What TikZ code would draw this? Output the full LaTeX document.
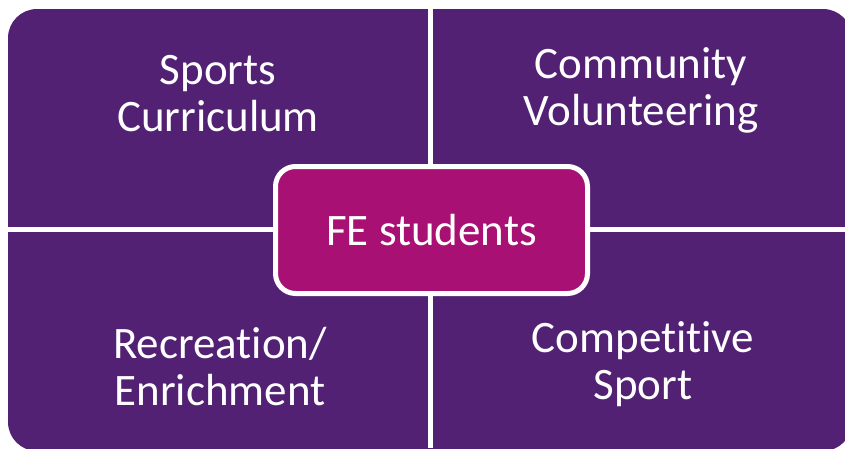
\documentclass[tikz,border=0pt]{standalone}
\usepackage{fontspec}
\setmainfont{Carlito}[Ligatures={NoCommon}]
\usepackage{tikz}
\definecolor{quadpurple}{RGB}{82,33,115}
\definecolor{hubmagenta}{RGB}{168,17,115}
\tikzset{quad/.style = {text = white, align = center, font = \fontsize{45}{47}\selectfont, inner sep = 0}}
\tikzset{hub/.style = {draw = white, line width = 5pt, fill = hubmagenta, rounded corners = 20pt,
                       minimum width = 312pt, minimum height = 127pt, text = white,
                       font = \fontsize{45}{47}\selectfont}}
\tikzset{divider/.style = {draw = white, line width = 5pt}}

\begin{document}
\begin{tikzpicture}[x=1pt, y=-1pt]
    \useasboundingbox (0, 0) rectangle (845, 448);
    \clip (0, 0) rectangle (845, 448);
    \fill [quadpurple, rounded corners = 29pt] (8, 9) rectangle (852, 451);

    \coordinate (top) at (430.5, 0);
    \coordinate (bottom) at (430.5, 448);
    \coordinate (left) at (0, 229.5);
    \coordinate (right) at (845, 229.5);
    \draw [divider] (top) -- (bottom);
    \draw [divider] (left) -- (right);

    \node [hub] (fe) at (431.5, 230) {FE students};

    \node [quad] (curriculum) at (218, 94) {Sports\\Curriculum};
    \node [quad] (volunteering) at (641, 90) {Community\\Volunteering};
    \node [quad] (recreation) at (220, 367) {Recreation/\\Enrichment};
    \node [quad] (competitive) at (643, 364) {Competitive\\Sport};
\end{tikzpicture}
\end{document}
